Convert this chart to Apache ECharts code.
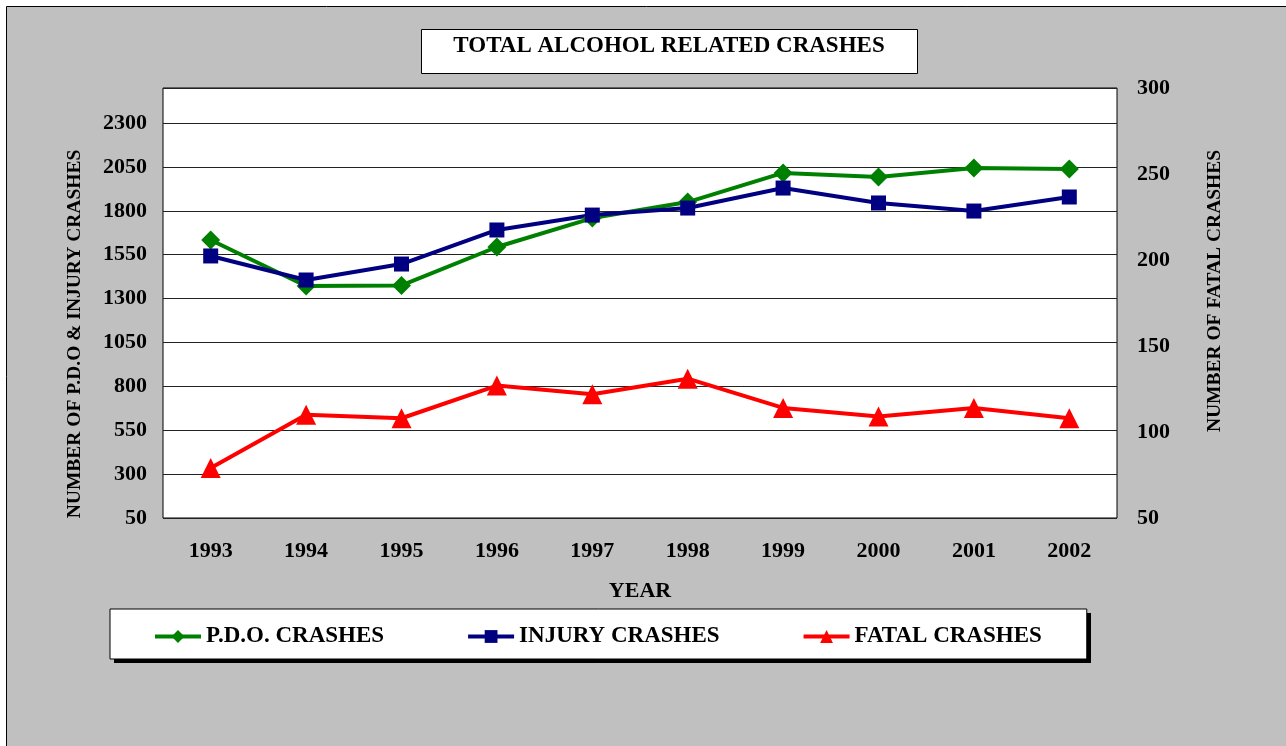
<!DOCTYPE html>
<html>
<head>
<meta charset="utf-8">
<title>Total Alcohol Related Crashes</title>
<script src="https://cdn.jsdelivr.net/npm/echarts@6/dist/echarts.min.js"></script>
<style>
  html, body { margin: 0; padding: 0; background: #fff; }
  #chart { width: 1286px; height: 746px; }
</style>
</head>
<body>
<div id="chart"></div>
<script>
// data
var years = ["1993", "1994", "1995", "1996", "1997", "1998", "1999", "2000", "2001", "2002"];
var pdoCrashes = [1634, 1372, 1375, 1594, 1759, 1850, 2016, 1993, 2044, 2038];
var injuryCrashes = [1543, 1406, 1497, 1691, 1776, 1816, 1930, 1845, 1799, 1879];
var fatalCrashes = [79, 110, 108, 127, 122, 131, 114, 109, 114, 108];

var serif = '"Liberation Serif", "Times New Roman", serif';

var chart = echarts.init(document.getElementById("chart"));

// plain numbers, no thousands separator
function plain(v) { return String(v); }

var option = {
  backgroundColor: "#fff",
  textStyle: { fontFamily: serif, fontWeight: "bold", color: "#000" },
  // gray panel, title box, legend shadow
  graphic: [
    {
      type: "rect", z: -10, silent: true,
      shape: { x: 6.5, y: 6.5, width: 1300, height: 800 },
      style: { fill: "#c0c0c0", stroke: "#000", lineWidth: 1 }
    },
    {
      type: "rect", z: -5, silent: true,
      shape: { x: 421.5, y: 29.5, width: 496, height: 44 },
      style: { fill: "#fff", stroke: "#000", lineWidth: 1 }
    },
    {
      type: "rect", z: -5, silent: true,
      shape: { x: 114, y: 613, width: 977, height: 50 },
      style: { fill: "#000" }
    }
  ],
  title: {
    text: "TOTAL ALCOHOL RELATED CRASHES",
    left: 669,
    top: 35,
    textAlign: "center",
    padding: 0,
    textStyle: { fontFamily: serif, fontWeight: "bold", fontSize: 23, color: "#000" }
  },
  legend: {
    left: 110,
    top: 609,
    padding: [16, 45, 11, 43],
    itemGap: 82,
    itemWidth: 46,
    itemHeight: 16,
    backgroundColor: "#fff",
    borderColor: "#000",
    borderWidth: 1,
    lineStyle: { width: 4 },
    textStyle: { fontFamily: serif, fontWeight: "bold", fontSize: 23, color: "#000" }
  },
  grid: {
    left: 163,
    top: 88,
    right: 169,
    bottom: 228,
    show: true,
    backgroundColor: "#fff",
    borderColor: "#000",
    borderWidth: 1
  },
  xAxis: {
    type: "category",
    data: years,
    boundaryGap: true,
    name: "YEAR",
    nameLocation: "middle",
    nameGap: 62,
    nameTextStyle: { fontFamily: serif, fontWeight: "bold", fontSize: 22, color: "#000" },
    axisLine: { show: false },
    axisTick: { show: false },
    axisLabel: { margin: 22, fontFamily: serif, fontWeight: "bold", fontSize: 22, color: "#000" }
  },
  yAxis: [
    {
      type: "value",
      min: 50,
      max: 2500,
      interval: 250,
      name: "NUMBER OF P.D.O & INJURY CRASHES",
      nameLocation: "middle",
      nameRotate: 90,
      nameGap: 78,
      nameTextStyle: { fontFamily: serif, fontWeight: "bold", fontSize: 19.5, color: "#000", padding: [0, 62, 0, 0] },
      axisLine: { show: false },
      axisTick: { show: false },
      splitLine: { lineStyle: { color: "#222", width: 1 } },
      axisLabel: { margin: 16, showMaxLabel: false, formatter: plain, fontFamily: serif, fontWeight: "bold", fontSize: 22, color: "#000" }
    },
    {
      type: "value",
      min: 50,
      max: 300,
      interval: 50,
      name: "NUMBER OF FATAL CRASHES",
      nameLocation: "middle",
      nameRotate: 90,
      nameGap: 88,
      nameTextStyle: { fontFamily: serif, fontWeight: "bold", fontSize: 19.5, color: "#000", padding: [0, 0, 0, 24] },
      axisLine: { show: false },
      axisTick: { show: false },
      splitLine: { show: false },
      axisLabel: { margin: 20, formatter: plain, fontFamily: serif, fontWeight: "bold", fontSize: 22, color: "#000" }
    }
  ],
  series: [
    {
      name: "P.D.O. CRASHES",
      type: "line",
      data: pdoCrashes,
      symbol: "diamond",
      symbolSize: 19,
      color: "#008000",
      lineStyle: { width: 4, color: "#008000" },
      itemStyle: { color: "#008000" }
    },
    {
      name: "INJURY CRASHES",
      type: "line",
      data: injuryCrashes,
      symbol: "rect",
      symbolSize: 15,
      color: "#000080",
      lineStyle: { width: 4, color: "#000080" },
      itemStyle: { color: "#000080" }
    },
    {
      name: "FATAL CRASHES",
      type: "line",
      yAxisIndex: 1,
      data: fatalCrashes,
      symbol: "triangle",
      symbolSize: 20,
      color: "#ff0000",
      lineStyle: { width: 4, color: "#ff0000" },
      itemStyle: { color: "#ff0000" }
    }
  ]
};

chart.setOption(option);
</script>
</body>
</html>
